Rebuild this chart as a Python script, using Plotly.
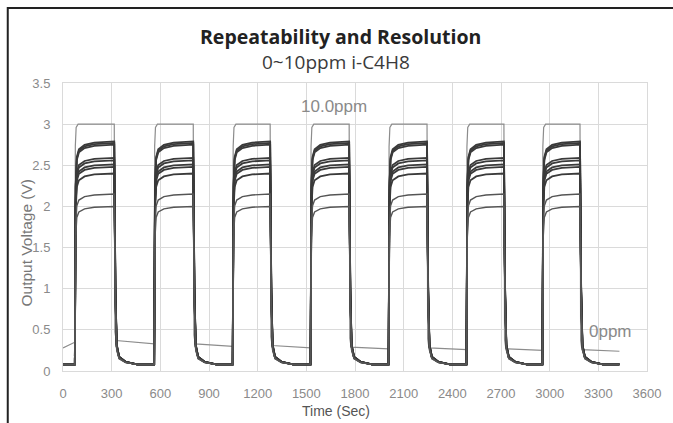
import plotly.graph_objects as go

# ---- data ----
rise_times = [73, 562, 1046, 1526, 2007, 2487, 2955]
fall_times = [316, 803, 1277, 1764, 2244, 2718, 3187]
end_time = 3430
levels = [3.00, 2.79, 2.77, 2.75, 2.59, 2.56, 2.51, 2.48, 2.40, 2.15, 2.00]
dark_baseline = 0.08
ref_gap_start = [0.28, 0.37, 0.33, 0.31, 0.29, 0.28, 0.27, 0.26]
ref_gap_end = [0.35, 0.33, 0.30, 0.28, 0.27, 0.26, 0.25, 0.24]
x_ticks = list(range(0, 3601, 300))
y_ticks = [0, 0.5, 1, 1.5, 2, 2.5, 3, 3.5]

# response shape knots (seconds after edge, fraction of step)
sensor_rise = [(0, 0.0), (5, 0.80), (12, 0.93), (25, 0.965), (60, 0.985), (120, 0.995)]
sensor_fall = [(0, 1.0), (7, 0.35), (15, 0.09), (30, 0.035), (70, 0.012), (140, 0.0)]
ref_rise = [(0, 0.0), (3, 0.90), (8, 0.985), (20, 1.0)]
ref_fall = [(0, 1.0), (4, 0.04), (12, 0.0)]


def build(level, ref):
    xs, ys = [], []
    b0s = ref_gap_start[0] if ref else dark_baseline
    b0e = ref_gap_end[0] if ref else dark_baseline
    xs += [0, rise_times[0]]
    ys += [b0s, b0e]
    for i, (tr, tf) in enumerate(zip(rise_times, fall_times)):
        base_in = ref_gap_end[i] if ref else dark_baseline
        for dt, f in (ref_rise if ref else sensor_rise):
            if tr + dt < tf:
                xs.append(tr + dt)
                ys.append(base_in + f * (level - base_in))
        xs.append(tf)
        ys.append(level)
        bs = ref_gap_start[i + 1] if ref else dark_baseline
        be = ref_gap_end[i + 1] if ref else dark_baseline
        nxt = rise_times[i + 1] if i + 1 < len(rise_times) else end_time
        for dt, f in (ref_fall if ref else sensor_fall)[1:]:
            if tf + dt < nxt:
                xs.append(tf + dt)
                ys.append(bs + f * (level - bs))
        xs.append(nxt)
        ys.append(be)
    return xs, ys


fig = go.Figure()
for k, lv in enumerate(levels):
    ref = k == 0
    xs, ys = build(lv, ref)
    if ref:
        color, width = "#8c8c8c", 1.2
    elif lv < 2.3:
        color, width = "#555555", 1.4
    else:
        color, width = "#3a3a3a", 1.8
    fig.add_trace(go.Scatter(x=xs, y=ys, mode="lines",
                             line=dict(color=color, width=width, simplify=False),
                             showlegend=False, hoverinfo="skip"))

grid = "#dadada"
tickfont = dict(family="Liberation Sans, Arial, sans-serif", size=13, color="#8a8a8a")
fig.update_layout(
    width=673, height=423,
    margin=dict(l=63, r=18, t=83, b=52),
    paper_bgcolor="white", plot_bgcolor="white",
    xaxis=dict(range=[0, 3600], tickvals=x_ticks, ticktext=[str(v) for v in x_ticks],
               showgrid=True, gridcolor=grid, gridwidth=1, zeroline=False,
               showline=True, linecolor=grid, mirror=True, ticks="",
               tickfont=tickfont, ticklabelstandoff=10),
    yaxis=dict(range=[0, 3.5], tickvals=y_ticks, ticktext=["0", "0.5", "1", "1.5", "2", "2.5", "3", "3.5"],
               showgrid=True, gridcolor=grid, gridwidth=1, zeroline=False,
               showline=True, linecolor=grid, mirror=True, ticks="",
               tickfont=tickfont, ticklabelstandoff=9),
    font=dict(family="Liberation Sans, Arial, sans-serif"),
)

W, H = 592.0, 288.0
def px(x):
    return (x - 63) / W
def py(y):
    return (371 - y) / H

annots = [
    dict(text="<b>Repeatability and Resolution</b>", x=px(344), y=py(36),
         font=dict(family="Open Sans, sans-serif", size=19.5, color="#222222")),
    dict(text="0~10ppm i-C4H8", x=px(340), y=py(62),
         font=dict(family="Open Sans, sans-serif", size=19, color="#3a3a3a")),
    dict(text="10.0ppm", x=px(338), y=py(106),
         font=dict(family="Liberation Sans, Arial, sans-serif", size=17, color="#8a8a8a")),
    dict(text="0ppm", x=px(618), y=py(331),
         font=dict(family="Liberation Sans, Arial, sans-serif", size=17, color="#8a8a8a")),
    dict(text="Time (Sec)", x=px(340), y=py(411),
         font=dict(family="Liberation Sans, Arial, sans-serif", size=14, color="#555555")),
    dict(text="Output Voltage (V)", x=px(27), y=py(242), textangle=-90,
         font=dict(family="Liberation Sans, Arial, sans-serif", size=15.5, color="#777777")),
]
for a in annots:
    fig.add_annotation(xref="paper", yref="paper", showarrow=False,
                       xanchor="center", yanchor="middle", **a)

# outer chart frame (top and left edges visible)
fig.add_shape(type="rect", xref="paper", yref="paper",
              x0=px(7), x1=px(720), y0=py(440), y1=py(8),
              line=dict(color="#222222", width=2), layer="above")

# remove the default page margin so the figure fills the 673x423 window exactly
fig.write_html("out.html",
               config={"displayModeBar": False},
               post_script="document.body.style.margin='0';document.body.style.overflow='hidden';")
